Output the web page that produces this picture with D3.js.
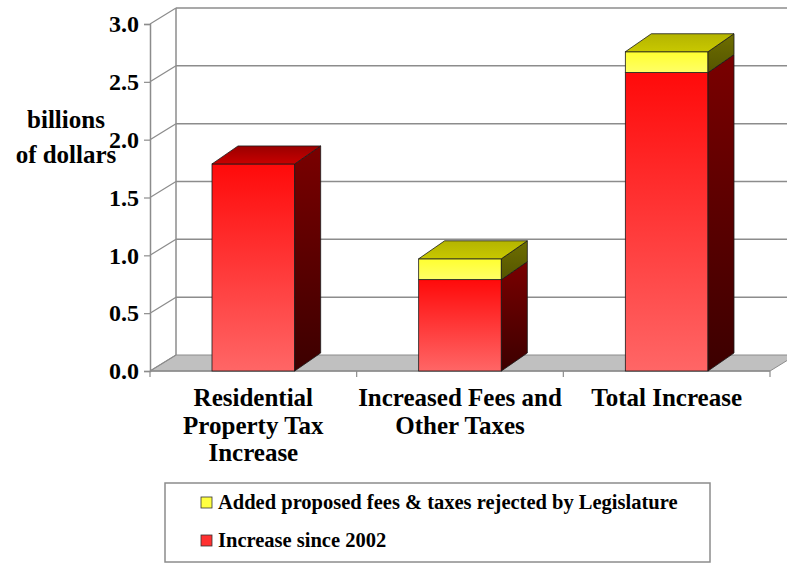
<!DOCTYPE html>
<html>
<head>
<meta charset="utf-8">
<script src="https://cdn.jsdelivr.net/npm/d3@7"></script>
<style>
  body { margin: 0; background: #fff; }
  svg { display: block; }
</style>
</head>
<body>
<svg id="chart" width="787" height="565"></svg>
<script>
// DATA
const categories = [
  "Residential Property Tax Increase",
  "Increased Fees and Other Taxes",
  "Total Increase",
];
const labelLines = [
  ["Residential", "Property Tax", "Increase"],
  ["Increased Fees and", "Other Taxes"],
  ["Total Increase"],
];
const increaseSince2002 = [1.79, 0.79, 2.58];
const addedRejected = [0, 0.18, 0.18];
const yTicks = [0, 0.5, 1.0, 1.5, 2.0, 2.5, 3.0];
const seriesKeys = ["increase", "added"];
const legendNames = [
  "Added proposed fees & taxes rejected by Legislature",
  "Increase since 2002",
];

// CANVAS SETUP
const svg = d3.select("#chart")
  .attr("font-family", "Liberation Serif")
  .attr("font-weight", "bold");
const front = { left: 150, right: 770, top: 24, bottom: 371 };
const wall = { dx: 26, dy: -16 };
const bar = { dx: 26, dy: -18 };

const xScale = d3
  .scaleBand()
  .domain(categories)
  .range([front.left, front.right])
  .paddingInner(0.6)
  .paddingOuter(0.3);

const yScale = d3.scaleLinear().domain([0, 3]).range([front.bottom, front.top]);

const rows = categories.map((c, i) => ({
  category: c,
  increase: increaseSince2002[i],
  added: addedRejected[i],
}));
const stacked = d3.stack().keys(seriesKeys)(rows);

// gradients
const defs = svg.append("defs");
function vGrad(id, top, bottom) {
  const g = defs
    .append("linearGradient")
    .attr("id", id)
    .attr("x1", 0).attr("y1", 0).attr("x2", 0).attr("y2", 1);
  g.append("stop").attr("offset", "0%").attr("stop-color", top);
  g.append("stop").attr("offset", "100%").attr("stop-color", bottom);
}
vGrad("redFront", "#ff0a0a", "#ff6666");
vGrad("redSide", "#7a0000", "#3c0000");
vGrad("redTop", "#9a0000", "#c80000");
vGrad("yelFront", "#ffff30", "#ffff66");
vGrad("yelSide", "#6e6e00", "#555500");
vGrad("yelTop", "#b4b400", "#c8c800");

const faces = {
  increase: { front: "url(#redFront)", side: "url(#redSide)", top: "url(#redTop)" },
  added: { front: "url(#yelFront)", side: "url(#yelSide)", top: "url(#yelTop)" },
};

// WALLS
const gw = svg.append("g").attr("id", "walls");
const backLeft = front.left + wall.dx;
const backRight = front.right + wall.dx;

gw.append("polygon")
  .attr("points", [
    [front.left, front.bottom], [front.right, front.bottom],
    [backRight, front.bottom + wall.dy], [backLeft, front.bottom + wall.dy],
  ].join(" "))
  .attr("fill", "#c0c0c0")
  .attr("stroke", "#8c8c8c")
  .attr("stroke-width", 1);

gw.selectAll("line.grid")
  .data(yTicks.filter((d) => d > 0))
  .join("line")
  .attr("class", "grid")
  .attr("x1", backLeft)
  .attr("x2", backRight)
  .attr("y1", (d) => yScale(d) + wall.dy)
  .attr("y2", (d) => yScale(d) + wall.dy)
  .attr("stroke", "#8c8c8c")
  .attr("stroke-width", 1.5);

gw.selectAll("line.diag")
  .data(yTicks)
  .join("line")
  .attr("class", "diag")
  .attr("x1", front.left)
  .attr("x2", backLeft)
  .attr("y1", (d) => yScale(d))
  .attr("y2", (d) => yScale(d) + wall.dy)
  .attr("stroke", "#8c8c8c")
  .attr("stroke-width", 1.2);

gw.append("line")
  .attr("x1", backLeft).attr("x2", backLeft)
  .attr("y1", yScale(3) + wall.dy).attr("y2", yScale(0) + wall.dy)
  .attr("stroke", "#8c8c8c").attr("stroke-width", 1.5);

// AXES
const gy = svg.append("g").attr("transform", `translate(${front.left},0)`);
gy.call(d3.axisLeft(yScale).tickValues(yTicks).tickFormat(d3.format(".1f")).tickSize(6).tickPadding(5))
  .call((g) => {
    g.attr("font-family", "Liberation Serif").attr("font-size", 24).attr("font-weight", "bold");
    g.select(".domain").attr("stroke", "#8c8c8c").attr("stroke-width", 1.5);
    g.selectAll(".tick line").attr("stroke", "#8c8c8c").attr("stroke-width", 1.2);
    g.selectAll(".tick text").attr("fill", "#000");
  });

const gx = svg.append("g").attr("transform", `translate(0,${front.bottom})`);
gx.append("line")
  .attr("x1", front.left).attr("x2", front.right)
  .attr("stroke", "#8c8c8c").attr("stroke-width", 1.5);
const boundaries = categories.map((c) => xScale(c) - (xScale.step() * xScale.paddingInner()) / 2);
boundaries.push(front.right);
gx.selectAll("line.tick")
  .data(boundaries)
  .join("line")
  .attr("class", "tick")
  .attr("x1", (d) => d).attr("x2", (d) => d)
  .attr("y1", 0).attr("y2", 6)
  .attr("stroke", "#8c8c8c").attr("stroke-width", 1.2);

gx.selectAll("text")
  .data(categories)
  .join("text")
  .attr("text-anchor", "middle")
  .attr("font-size", 25)
  .attr("fill", "#000")
  .selectAll("tspan")
  .data((d, i) => labelLines[i].map((l) => ({ l, c: d })))
  .join("tspan")
  .attr("x", (d) => xScale(d.c) + xScale.bandwidth() / 2)
  .attr("y", (d, i) => 35 + i * 27.5)
  .text((d) => d.l);

// y title (overlaps the 2.0 label, as in the original)
svg.append("text")
  .attr("text-anchor", "middle")
  .attr("font-size", 25)
  .selectAll("tspan")
  .data(["billions", "of dollars"])
  .join("tspan")
  .attr("x", 66)
  .attr("y", (d, i) => 128 + i * 35)
  .text((d) => d);

// BARS
const gb = svg.append("g").attr("id", "bars");
const bw = xScale.bandwidth();
stacked.forEach((layer, li) => {
  const key = layer.key;
  layer.forEach((d, i) => {
    if (d[1] - d[0] <= 0) return;
    const x0 = xScale(d.data.category);
    const yT = yScale(d[1]);
    const yB = yScale(d[0]);
    const g = gb.append("g");
    g.append("rect")
      .attr("x", x0).attr("y", yT).attr("width", bw).attr("height", yB - yT)
      .attr("fill", faces[key].front)
      .attr("stroke", "#1a1a1a").attr("stroke-width", 0.8);
    g.append("polygon")
      .attr("points", [
        [x0 + bw, yT], [x0 + bw + bar.dx, yT + bar.dy],
        [x0 + bw + bar.dx, yB + bar.dy], [x0 + bw, yB],
      ].join(" "))
      .attr("fill", faces[key].side)
      .attr("stroke", "#1a1a1a").attr("stroke-width", 0.8);
    // top face only on the highest non-empty segment
    const above = stacked.slice(li + 1).some((l) => l[i][1] - l[i][0] > 0);
    if (!above) {
      g.append("polygon")
        .attr("points", [
          [x0, yT], [x0 + bar.dx, yT + bar.dy],
          [x0 + bw + bar.dx, yT + bar.dy], [x0 + bw, yT],
        ].join(" "))
        .attr("fill", faces[key].top)
        .attr("stroke", "#1a1a1a").attr("stroke-width", 0.8);
    }
  });
});

// LEGEND
const gl = svg.append("g").attr("id", "legend");
gl.append("rect")
  .attr("x", 165).attr("y", 483).attr("width", 545).attr("height", 79)
  .attr("fill", "#fff").attr("stroke", "#8c8c8c").attr("stroke-width", 1.5);
const legendFill = ["#ffff40", "#ff3030"];
const li = gl.selectAll("g.item")
  .data(legendNames)
  .join("g")
  .attr("class", "item")
  .attr("transform", (d, i) => `translate(201,${497 + i * 38})`);
li.append("rect")
  .attr("width", 11).attr("height", 11)
  .attr("fill", (d, i) => legendFill[i])
  .attr("stroke", "#333").attr("stroke-width", 0.8);
li.append("text")
  .attr("x", 17).attr("y", 12)
  .attr("font-size", 20.5)
  .text((d) => d);
</script>
</body>
</html>
